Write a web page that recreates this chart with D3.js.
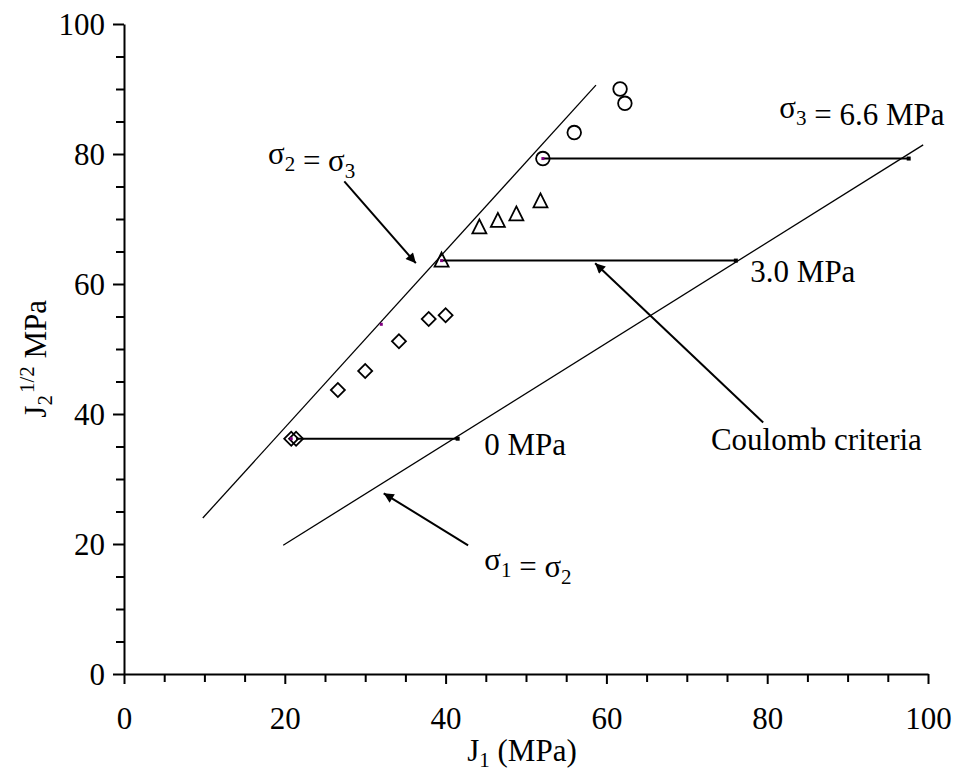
<!DOCTYPE html>
<html>
<head>
<meta charset="utf-8">
<script src="https://cdn.jsdelivr.net/npm/d3@7"></script>
<style>
  html, body { margin: 0; padding: 0; background: #fff; }
  svg { display: block; }
  text { font-family: "Liberation Serif", "Times New Roman", serif; fill: #000; }
</style>
</head>
<body>
<svg id="chart" width="954" height="775"></svg>
<script>
// Test results: J1 (MPa) against J2^(1/2) (MPa) for three confining stresses
const diamondJ1 = [20.8, 21.4, 26.6, 30.0, 34.2, 37.9, 40.0];
const diamondJ2 = [36.2, 36.2, 43.7, 46.6, 51.2, 54.6, 55.2];
const triangleJ1 = [39.5, 44.2, 46.5, 48.8, 51.8];
const triangleJ2 = [63.6, 68.7, 69.7, 70.7, 72.7];
const circleJ1 = [52.1, 56.0, 61.7, 62.3];
const circleJ2 = [79.3, 83.3, 90.0, 87.8];

// Small points on the sigma2 = sigma3 boundary
const boundaryJ1 = [20.8, 32.0, 39.5, 52.1];
const boundaryJ2 = [36.2, 53.8, 63.6, 79.3];

// Limit lines (end points)
const sigma23J1 = [9.8, 58.7];
const sigma23J2 = [24.0, 90.6];
const sigma12J1 = [19.8, 99.4];
const sigma12J2 = [19.8, 81.4];

// Stress paths at constant J2^(1/2): start J1, end J1, level
const pathStartJ1 = [21.4, 39.5, 52.1];
const pathEndJ1 = [41.5, 76.1, 97.6];
const pathJ2 = [36.2, 63.6, 79.3];

// Axis ticks
const xTicks = d3.range(0, 101, 5);
const yTicks = d3.range(0, 101, 5);
const majorTicks = [0, 20, 40, 60, 80, 100];

const svg = d3.select("#chart");
const x = d3.scaleLinear().domain([0, 100]).range([124, 928]);
const y = d3.scaleLinear().domain([0, 100]).range([674, 24]);

const FS = 31;
const SUB = 21;

// Axes
const xAxis = d3.axisBottom(x).tickValues(xTicks).tickSizeInner(8).tickSizeOuter(0)
  .tickFormat(d => majorTicks.includes(d) ? d : "");
const gx = svg.append("g").attr("transform", `translate(0,${y(0)})`).call(xAxis);
gx.select(".domain").attr("stroke", "#000").attr("stroke-width", 2);
gx.selectAll(".tick line").attr("stroke", "#000").attr("stroke-width", 2)
  .attr("y2", d => majorTicks.includes(d) ? 10 : 8);
gx.selectAll(".tick text").attr("y", 55).attr("dy", 0)
  .style("font-family", "Liberation Serif").style("font-size", FS + "px").attr("fill", "#000");

const yAxis = d3.axisLeft(y).tickValues(yTicks).tickSizeInner(8).tickSizeOuter(0)
  .tickFormat(d => majorTicks.includes(d) ? d : "");
const gy = svg.append("g").attr("transform", `translate(${x(0)},0)`).call(yAxis);
gy.select(".domain").attr("stroke", "#000").attr("stroke-width", 2);
gy.selectAll(".tick line").attr("stroke", "#000").attr("stroke-width", 2)
  .attr("x2", d => majorTicks.includes(d) ? -11 : -8);
gy.selectAll(".tick text").attr("x", -19).attr("dy", "0.35em")
  .style("font-family", "Liberation Serif").style("font-size", FS + "px").attr("fill", "#000");

// Axis titles
const xt = svg.append("text").attr("x", x(49.5)).attr("y", 761).attr("text-anchor", "middle")
  .style("font-size", FS + "px");
xt.append("tspan").text("J");
xt.append("tspan").attr("dy", 6).style("font-size", SUB + "px").text("1");
xt.append("tspan").attr("dy", -6).text(" (MPa)");

const yt = svg.append("text").attr("transform", `translate(46,${y(48.5)}) rotate(-90)`)
  .attr("text-anchor", "middle").style("font-size", FS + "px");
yt.append("tspan").text("J");
yt.append("tspan").attr("dy", 6).style("font-size", SUB + "px").text("2");
yt.append("tspan").attr("dy", -18).attr("dx", 2).style("font-size", SUB + "px").text("1/2");
yt.append("tspan").attr("dy", 12).text(" MPa");

// Limit lines
const line = d3.line().x(d => x(d[0])).y(d => y(d[1]));
svg.append("path").attr("d", line(d3.zip(sigma23J1, sigma23J2)))
  .attr("fill", "none").attr("stroke", "#000").attr("stroke-width", 1.3);
svg.append("path").attr("d", line(d3.zip(sigma12J1, sigma12J2)))
  .attr("fill", "none").attr("stroke", "#000").attr("stroke-width", 1.3);

// Stress paths
pathJ2.forEach((lv, i) => {
  svg.append("path").attr("d", line([[pathStartJ1[i], lv], [pathEndJ1[i], lv]]))
    .attr("fill", "none").attr("stroke", "#000").attr("stroke-width", 2);
  svg.append("rect").attr("x", x(pathEndJ1[i]) - 2).attr("y", y(lv) - 2)
    .attr("width", 4).attr("height", 4).attr("fill", "#000");
});

// Markers
function outline(sel) {
  return sel.attr("fill", "none").attr("stroke", "#000").attr("stroke-width", 1.8);
}

outline(svg.append("g").selectAll("path").data(d3.zip(diamondJ1, diamondJ2)).join("path")
  .attr("d", d3.symbol(d3.symbolSquare, 98))
  .attr("transform", d => `translate(${x(d[0])},${y(d[1])}) rotate(45)`));

outline(svg.append("g").selectAll("path").data(d3.zip(triangleJ1, triangleJ2)).join("path")
  .attr("d", d => {
    const cx = x(d[0]), cy = y(d[1]);
    return `M${cx},${cy - 8}L${cx + 7},${cy + 6}L${cx - 7},${cy + 6}Z`;
  }));

outline(svg.append("g").selectAll("circle").data(d3.zip(circleJ1, circleJ2)).join("circle")
  .attr("cx", d => x(d[0])).attr("cy", d => y(d[1])).attr("r", 6.8));

svg.append("g").selectAll("rect").data(d3.zip(boundaryJ1, boundaryJ2)).join("rect")
  .attr("x", d => x(d[0]) - 1.5).attr("y", d => y(d[1]) - 1.5)
  .attr("width", 3).attr("height", 3).attr("fill", "#800080");

// Annotation arrows
const defs = svg.append("defs");
defs.append("marker").attr("id", "ah").attr("viewBox", "0 0 10 10")
  .attr("refX", 10).attr("refY", 5).attr("markerWidth", 14).attr("markerHeight", 10)
  .attr("markerUnits", "userSpaceOnUse").attr("orient", "auto")
  .append("path").attr("d", "M0,0L10,5L0,10Z").attr("fill", "#000");

const arrows = [
  [[27.4, 75.8], [36.3, 63.2]],
  [[42.8, 19.8], [32.3, 27.8]],
  [[79.5, 38.7], [58.6, 63.2]]
];
arrows.forEach(a => {
  svg.append("line").attr("x1", x(a[0][0])).attr("y1", y(a[0][1]))
    .attr("x2", x(a[1][0])).attr("y2", y(a[1][1]))
    .attr("stroke", "#000").attr("stroke-width", 2).attr("marker-end", "url(#ah)");
});

// Annotation text; objects in parts are subscripts
function label(px, py, parts) {
  const t = svg.append("text").attr("x", x(px)).attr("y", y(py)).style("font-size", FS + "px");
  parts.forEach(p => {
    if (typeof p === "object") {
      t.append("tspan").attr("dy", 7).style("font-size", SUB + "px").text(p.s);
      t.append("tspan").attr("dy", -7).text("");
    } else {
      t.append("tspan").text(p);
    }
  });
}
label(17.9, 78.5, ["σ", { s: "2" }, " = σ", { s: "3" }]);
label(81.5, 85.5, ["σ", { s: "3" }, " = 6.6 MPa"]);
label(77.9, 60.3, ["3.0 MPa"]);
label(44.8, 33.7, ["0 MPa"]);
label(44.8, 16.0, ["σ", { s: "1" }, " = σ", { s: "2" }]);
label(73.0, 34.5, ["Coulomb criteria"]);
</script>
</body>
</html>
